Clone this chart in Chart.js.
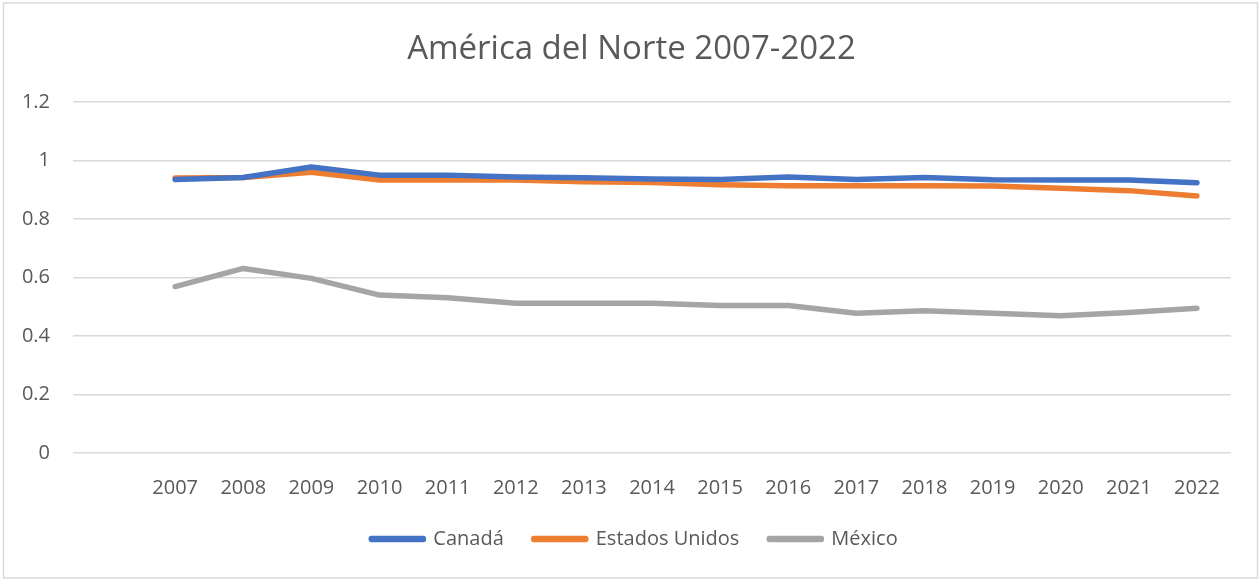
<!DOCTYPE html>
<html>
<head>
<meta charset="utf-8">
<script src="https://cdn.jsdelivr.net/npm/chart.js@4.4.1/dist/chart.umd.min.js"></script>
<style>
  html, body { margin: 0; padding: 0; background: #fff; }
  #wrap { position: absolute; left: 0; top: 0; width: 1259px; height: 581px; }
</style>
</head>
<body>
<div id="wrap"><canvas id="chart"></canvas></div>
<script>
// first category is empty, like the blank row in the source sheet
var years = ["", "2007", "2008", "2009", "2010", "2011", "2012", "2013", "2014",
             "2015", "2016", "2017", "2018", "2019", "2020", "2021", "2022"];
var canada = [null, 0.935, 0.942, 0.978, 0.950, 0.950, 0.944, 0.941, 0.937,
              0.935, 0.944, 0.935, 0.942, 0.934, 0.933, 0.933, 0.924];
var estadosUnidos = [null, 0.940, 0.942, 0.960, 0.933, 0.933, 0.933, 0.927, 0.925,
                     0.917, 0.914, 0.914, 0.914, 0.913, 0.905, 0.897, 0.879];
var mexico = [null, 0.569, 0.631, 0.597, 0.540, 0.531, 0.512, 0.512, 0.512,
              0.504, 0.504, 0.478, 0.486, 0.478, 0.469, 0.480, 0.495];
var yTicks = [0, 0.2, 0.4, 0.6, 0.8, 1, 1.2];

var textColor = "#595959";
var fontFamily = "'Open Sans', 'Noto Sans', sans-serif";

// light grey frame round the whole chart
var framePlugin = {
  id: "frame",
  beforeDraw: function (chart) {
    var ctx = chart.ctx;
    ctx.save();
    ctx.fillStyle = "#ffffff";
    ctx.fillRect(0, 0, chart.width, chart.height);
    ctx.strokeStyle = "#d9d9d9";
    ctx.lineWidth = 1.5;
    ctx.strokeRect(3.5, 3, 1254, 575);
    ctx.restore();
  },
  // the right padding pulls title and legend left; push them back to the middle of the frame
  afterLayout: function (chart) {
    chart.legend.left += 19;
    chart.legend.right += 19;
    chart.titleBlock.left += 16;
    chart.titleBlock.right += 16;
  }
};

function makeSet(label, data, color) {
  return {
    label: label,
    data: data,
    borderColor: color,
    backgroundColor: color,
    borderWidth: 5.5,
    pointRadius: 0,
    pointHoverRadius: 0,
    tension: 0,
    borderCapStyle: "round",
    borderJoinStyle: "round"
  };
}

new Chart(document.getElementById("chart"), {
  type: "line",
  data: {
    labels: years,
    datasets: [
      makeSet("Canadá", canada, "#4472C4"),
      makeSet("Estados Unidos", estadosUnidos, "#ED7D31"),
      makeSet("México", mexico, "#A5A5A5")
    ]
  },
  options: {
    responsive: true,
    maintainAspectRatio: false,
    animation: false,
    layout: { padding: { left: 0, right: 28, top: 0, bottom: 22 } },
    scales: {
      x: {
        offset: true,
        grid: { display: false, drawTicks: false },
        border: { display: false },
        ticks: {
          color: textColor,
          padding: 23,
          maxRotation: 0,
          autoSkip: false,
          font: { family: fontFamily, size: 20 }
        },
        afterFit: function (scale) { scale.height = 46; }
      },
      y: {
        min: 0,
        max: 1.2,
        afterBuildTicks: function (scale) {
          scale.ticks = yTicks.map(function (v) { return { value: v }; });
        },
        grid: { color: "#d9d9d9", lineWidth: 1.5, drawTicks: false },
        border: { display: false },
        ticks: {
          color: textColor,
          padding: 23,
          font: { family: fontFamily, size: 20 },
          callback: function (v) { return String(Math.round(v * 10) / 10); }
        },
        afterFit: function (scale) { scale.width = 73; }
      }
    },
    plugins: {
      title: {
        display: true,
        text: "América del Norte 2007-2022",
        color: textColor,
        font: { family: fontFamily, size: 33, weight: "normal" },
        padding: { top: 30, bottom: 32.4 }
      },
      legend: {
        position: "bottom",
        labels: {
          color: textColor,
          boxWidth: 52,
          boxHeight: 1,
          padding: 30,
          font: { family: fontFamily, size: 20 }
        }
      },
      tooltip: { enabled: false }
    }
  },
  plugins: [framePlugin]
});
</script>
</body>
</html>
